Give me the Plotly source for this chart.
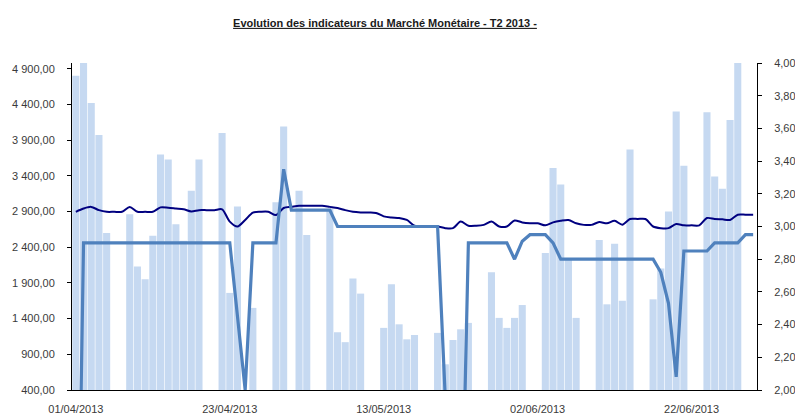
import pandas as pd
import plotly.graph_objects as go

# Categories: business calendar of Q2 2013 as shown (13/04 and 14/04 absent)
all_days = pd.date_range("2013-04-01", "2013-06-30", freq="D")
missing_days = ["2013-04-13", "2013-04-14"]
dates = [d.strftime("%d/%m/%Y") for d in all_days if d.strftime("%Y-%m-%d") not in missing_days]

tick_labels = ["01/04/2013", "23/04/2013", "13/05/2013", "02/06/2013", "22/06/2013"]

# Volume (left axis, bars)
volume = [4800, 5000, 4420, 3970, 2600, 0, 0, 2860, 2130, 1950,
          2560, 3700, 3630, 2720, 2490, 3190, 3630, 0, 0, 4000,
          1760, 2970, 0, 1550, 0, 0, 3030, 4090, 0, 3190,
          2570, 0, 0, 2940, 1210, 1070, 1960, 1750, 0, 0,
          1270, 1880, 1320, 1110, 1170, 0, 0, 1200, 760, 1100,
          1250, 1340, 0, 0, 2050, 1410, 1270, 1410, 1590, 0,
          0, 2320, 3510, 3280, 2250, 1410, 0, 0, 2500, 1600,
          2450, 1650, 3770, 0, 0, 1670, 2100, 2900, 4300, 3540,
          0, 0, 4290, 3390, 3220, 4180, 5000, 0, 0]

# Average rate (right axis, dark navy line)
taux_moyen = [3.09, 3.11, 3.12, 3.10, 3.09, 3.09, 3.09, 3.12, 3.09, 3.09,
              3.09, 3.117, 3.115, 3.11, 3.105, 3.092, 3.10, 3.10, 3.10, 3.105,
              3.03, 3.00, 3.04, 3.085, 3.09, 3.09, 3.07, 3.113, 3.12, 3.127,
              3.127, 3.127, 3.127, 3.12, 3.113, 3.10, 3.09, 3.086, 3.085, 3.083,
              3.062, 3.055, 3.052, 3.04, 3.005, 3.00, 3.00, 3.00, 2.99, 2.99,
              3.03, 3.005, 3.005, 3.01, 3.03, 3.00, 3.00, 3.037, 3.025, 3.02,
              3.02, 3.007, 3.025, 3.035, 3.04, 3.02, 3.01, 3.01, 3.027, 3.02,
              3.035, 3.011, 3.046, 3.046, 3.046, 3.00, 2.99, 2.99, 3.015, 3.007,
              3.007, 3.007, 3.052, 3.046, 3.044, 3.04, 3.072, 3.072, 3.072]

# Second rate (right axis, steel-blue line)
taux_jour = [0.0, 2.90, 2.90, 2.90, 2.90, 2.90, 2.90, 2.90, 2.90, 2.90,
             2.90, 2.90, 2.90, 2.90, 2.90, 2.90, 2.90, 2.90, 2.90, 2.90,
             2.90, 2.45, 2.00, 2.90, 2.90, 2.90, 2.90, 3.35, 3.10, 3.10,
             3.10, 3.10, 3.10, 3.10, 3.00, 3.00, 3.00, 3.00, 3.00, 3.00,
             3.00, 3.00, 3.00, 3.00, 3.00, 3.00, 3.00, 3.00, 1.95, 0.0,
             0.8, 2.90, 2.90, 2.90, 2.90, 2.90, 2.90, 2.80, 2.91, 2.95,
             2.95, 2.95, 2.90, 2.80, 2.80, 2.80, 2.80, 2.80, 2.80, 2.80,
             2.80, 2.80, 2.80, 2.80, 2.80, 2.80, 2.72, 2.53, 2.08, 2.85,
             2.85, 2.85, 2.85, 2.90, 2.90, 2.90, 2.90, 2.95, 2.95]

left_ticks = [400, 900, 1400, 1900, 2400, 2900, 3400, 3900, 4400, 4900]
right_ticks = [2.0, 2.2, 2.4, 2.6, 2.8, 3.0, 3.2, 3.4, 3.6, 3.8, 4.0]

FONT = "Liberation Sans, Arial, sans-serif"
TXT = "#3a3a3a"

fig = go.Figure()
fig.add_trace(go.Bar(x=dates, y=volume, marker=dict(color="#C6D9F1", line=dict(width=0)),
                     name="Volume", yaxis="y"))
fig.add_trace(go.Scatter(x=dates, y=taux_moyen, mode="lines", name="Taux moyen",
                         line=dict(color="#000080", width=2, shape="spline", smoothing=0.8),
                         yaxis="y2"))
fig.add_trace(go.Scatter(x=dates, y=taux_jour, mode="lines", name="Taux",
                         line=dict(color="#4F81BD", width=3.2), yaxis="y2"))

fig.update_layout(
    width=795, height=417,
    margin=dict(l=72, r=38, t=63, b=27),
    paper_bgcolor="white", plot_bgcolor="white",
    separators=", ",
    showlegend=False,
    bargap=0.08,
    font=dict(family=FONT, size=11, color=TXT),
    title=dict(text="<b><u>Evolution des indicateurs du Marché Monétaire - T2 2013 -</u></b>",
               x=385 / 795, xanchor="center", xref="container",
               y=1 - 23 / 417, yanchor="middle", yref="container",
               font=dict(family=FONT, size=11, color="#1a1a1a")),
    xaxis=dict(type="category", tickmode="array", automargin=False,
               tickvals=[dates[i] for i in (0, 20, 40, 60, 80)], ticktext=tick_labels,
               showline=True, linecolor="black", linewidth=1, ticks="", showgrid=False,
               ticklabelstandoff=9, tickfont=dict(size=11, color=TXT), zeroline=False),
    yaxis=dict(range=[400, 4980], tickmode="array", tickvals=left_ticks, automargin=False,
               tickformat=",.2f", showline=True, linecolor="black", linewidth=1,
               ticks="outside", ticklen=4, tickcolor="black", showgrid=False, zeroline=False,
               ticklabelstandoff=10, tickfont=dict(size=11, color=TXT)),
    yaxis2=dict(range=[2, 4], overlaying="y", side="right", tickmode="array", automargin=False,
                tickvals=right_ticks, tickformat=".2f", showline=True, linecolor="black",
                linewidth=1, ticks="outside", ticklen=4, tickcolor="black", showgrid=False,
                zeroline=False, ticklabelstandoff=10, tickfont=dict(size=11, color=TXT)),
)

fig.write_html("out.html",
               config={"displayModeBar": False},
               post_script="document.body.style.margin='0';document.body.style.overflow='hidden';")
